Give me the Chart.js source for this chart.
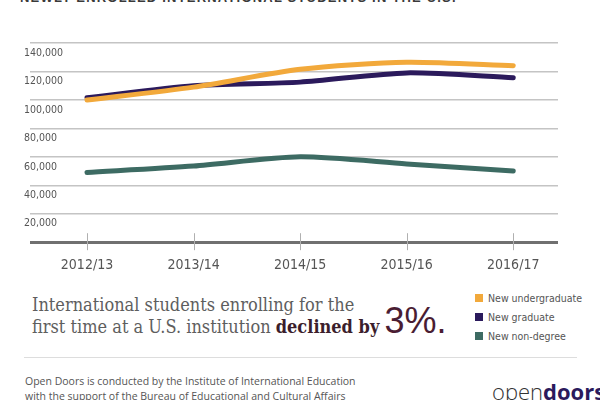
<!DOCTYPE html>
<html>
<head>
<meta charset="utf-8">
<script src="https://cdn.jsdelivr.net/npm/chart.js@4"></script>
<style>
  body { margin: 0; width: 600px; height: 400px; overflow: hidden; background: #fff; position: relative; }
  #wrap { position: absolute; left: 0; top: 0; width: 600px; height: 287px; }
  .title { position: absolute; left: 20px; top: -10px; font: bold 13px "Liberation Sans", sans-serif; letter-spacing: 1.2px; color: #3a3a3a; white-space: nowrap; }
  .headline { position: absolute; left: 32px; top: 294px; font: 18px "DejaVu Serif Condensed", "DejaVu Serif", serif; color: #5e5e5e; line-height: 22px; white-space: nowrap; }
  .headline b { color: #3b1e2c; }
  .headline .big { font-size: 36px; line-height: 0; color: #4a1d33; font-family: "Liberation Sans", sans-serif; }
  .legend { position: absolute; left: 475px; top: 289px; font: 10.5px "DejaVu Sans Condensed", sans-serif; color: #555; line-height: 19px; white-space: nowrap; }
  .legend span { display: inline-block; width: 8px; height: 8px; margin-right: 5px; }
  .rule { position: absolute; left: 24px; top: 357px; width: 553px; height: 1px; background: #ddd; }
  .foot { position: absolute; left: 25px; top: 374px; font: 10.5px "Open Sans", sans-serif; color: #555; line-height: 15px; white-space: nowrap; }
  .logo { position: absolute; left: 492px; top: 374px; font: 300 22px "Open Sans", sans-serif; line-height: 22px; color: #333; white-space: nowrap; }
  .logo b { color: #2b1a5c; font-weight: 700; }
  .logo sup { font-size: 8px; color: #555; vertical-align: 12px; }
</style>
</head>
<body>
<div class="title">NEWLY ENROLLED INTERNATIONAL STUDENTS IN THE U.S.</div>
<div id="wrap"><canvas id="chart"></canvas></div>
<div class="headline">International students enrolling for the<br>first time at a U.S. institution <b>declined by</b> <span class="big">3%.</span></div>
<div class="legend">
  <div><span style="background:#f2a93b"></span>New undergraduate</div>
  <div><span style="background:#2b1a5c"></span>New graduate</div>
  <div><span style="background:#3d6b63"></span>New non-degree</div>
</div>
<div class="rule"></div>
<div class="foot">Open Doors is conducted by the Institute of International Education<br>with the support of the Bureau of Educational and Cultural Affairs</div>
<div class="logo">open<b>doors</b><sup>®</sup></div>

<script>
const years = ["2012/13", "2013/14", "2014/15", "2015/16", "2016/17"];
const undergrad = [100000, 109000, 121500, 126500, 124000];
const graduate = [101500, 110000, 112500, 119000, 115500];
const nonDegree = [49000, 53500, 60000, 55000, 50000];
const yTicks = [0, 20000, 40000, 60000, 80000, 100000, 120000, 140000];

const toPoints = (arr) => arr.map((v, i) => ({ x: i, y: v }));
const narrow = "'DejaVu Sans Condensed', sans-serif";

// small tick marks crossing the bottom axis line
const axisTicks = {
  id: "axisTicks",
  afterDatasetsDraw(chart) {
    const { ctx, chartArea, scales } = chart;
    ctx.save();
    ctx.strokeStyle = "#b0b0b0";
    ctx.lineWidth = 1;
    years.forEach((_, i) => {
      const x = Math.round(scales.x.getPixelForValue(i)) + 0.5;
      ctx.beginPath();
      ctx.moveTo(x, chartArea.bottom - 9);
      ctx.lineTo(x, chartArea.bottom + 8);
      ctx.stroke();
    });
    ctx.restore();
  },
};

new Chart(document.getElementById("chart"), {
  type: "line",
  data: {
    datasets: [
      { label: "New undergraduate", data: toPoints(undergrad), borderColor: "#f2a93b" },
      { label: "New graduate", data: toPoints(graduate), borderColor: "#2b1a5c" },
      { label: "New non-degree", data: toPoints(nonDegree), borderColor: "#3d6b63" },
    ],
  },
  options: {
    responsive: true,
    maintainAspectRatio: false,
    animation: false,
    layout: { padding: { left: 30, right: 42, top: 43, bottom: 6 } },
    elements: {
      line: { borderWidth: 5, tension: 0.25, borderCapStyle: "round" },
      point: { radius: 0 },
    },
    plugins: { legend: { display: false }, tooltip: { enabled: false } },
    scales: {
      x: {
        type: "linear",
        min: -0.535,
        max: 4.42,
        afterBuildTicks: (s) => { s.ticks = years.map((_, i) => ({ value: i })); },
        grid: { display: false },
        border: { display: false },
        ticks: {
          padding: 7,
          color: "#555",
          font: { family: narrow, size: 14 },
          callback: (v) => years[v],
        },
      },
      y: {
        min: 0,
        max: 140000,
        afterBuildTicks: (s) => { s.ticks = yTicks.map((v) => ({ value: v })); },
        border: { display: false },
        grid: {
          drawTicks: false,
          color: (c) => (c.tick && c.tick.value === 0 ? "#707070" : "#c4c4c4"),
          lineWidth: (c) => (c.tick && c.tick.value === 0 ? 3 : 1.5),
        },
        ticks: {
          mirror: true,
          padding: -2,
          labelOffset: 10,
          color: "#555",
          font: { family: narrow, size: 10.5 },
          callback: (v) => (v === 0 ? "" : v.toLocaleString("en-US")),
        },
      },
    },
  },
  plugins: [axisTicks],
});
</script>
</body>
</html>
